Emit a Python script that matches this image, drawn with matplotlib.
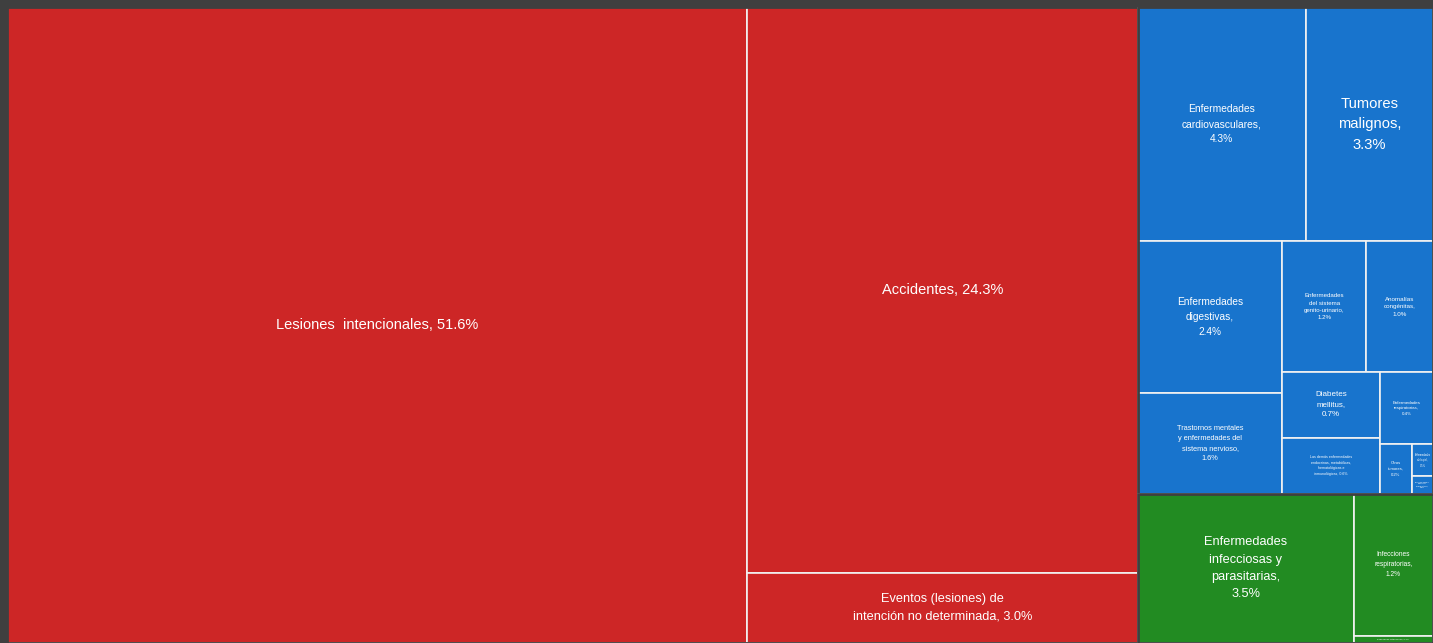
import matplotlib.pyplot as plt
from matplotlib.patches import Rectangle

# causes of death, percent of total
group_names = ['Lesiones', 'Enfermedades no transmisibles', 'Enfermedades transmisibles']

lesiones_labels = ['Lesiones  intencionales', 'Accidentes',
                   'Eventos (lesiones) de\nintención no determinada']
lesiones_values = [51.6, 24.3, 3.0]

no_trans_labels = ['Enfermedades\ncardiovasculares', 'Tumores\nmalignos',
                   'Enfermedades\ndigestivas',
                   'Trastornos mentales\ny enfermedades del\nsistema nervioso',
                   'Enfermedades\ndel sistema\ngenito-urinario',
                   'Anomalías\ncongénitas', 'Diabetes\nmellitus',
                   'Las demás enfermedades\nendocrinas, metabólicas,\nhematológicas e\ninmunológicas',
                   'Enfermedades\nrespiratorias', 'Otros\ntumores',
                   'Enfermedades\nde la piel', 'Enfermedades\nmusculo-\nesqueléticas']
no_trans_values = [4.32, 3.27, 2.4, 1.6, 1.2, 0.96, 0.7, 0.6, 0.42, 0.17, 0.075, 0.04]

trans_labels = ['Enfermedades\ninfecciosas y\nparasitarias', 'Infecciones\nrespiratorias',
                'Deficiencias nutricionales']
trans_values = [3.54, 1.24, 0.06]

# styles (font size, separator before the percent)
lesiones_fs = [10.5, 10.5, 9.2]
lesiones_sep = [' ', ' ', ' ']
no_trans_fs = [7.4, 10.6, 7.3, 5.3, 4.4, 4.5, 5.8, 2.6, 3.2, 3.0, 1.8, 1.6]
no_trans_sep = ['\n', '\n', '\n', '\n', '\n', '\n', '\n', ' ', '\n', '\n', '\n', '\n']
trans_fs = [9.2, 4.8, 1.6]
trans_sep = ['\n', '\n', ' ']

group_colors = ['#cd2626', '#1874cd', '#228b22']
frame = '#3f3f3f'


def worst(row, side):
    s = sum(row)
    return max(max(side * side * r / (s * s), s * s / (side * side * r)) for r in row)


def squarify(values, x, y, dx, dy):
    total = sum(values)
    sizes = [v * dx * dy / total for v in values]
    rects = []
    while sizes:
        side = dy if dx >= dy else dx
        row = [sizes[0]]
        i = 1
        while i < len(sizes) and worst(row + [sizes[i]], side) <= worst(row, side):
            row.append(sizes[i])
            i += 1
        s = sum(row)
        if dx >= dy:
            w = s / dy
            yy = y
            for r in row:
                rects.append((x, yy, w, r / w))
                yy += r / w
            x += w
            dx -= w
        else:
            h = s / dx
            xx = x
            for r in row:
                rects.append((xx, y, r / h, h))
                xx += r / h
            y += h
            dy -= h
        sizes = sizes[i:]
    return rects


W, H = 1426, 636
pad = 3  # axes runs a little past the right and bottom edges of the figure

fig = plt.figure(figsize=(14.33, 6.43), dpi=100, facecolor=frame)
ax = fig.add_axes([7 / 1433, -pad / 643, (W + pad) / 1433, (H + pad) / 643])
ax.set_xlim(0, W + pad)
ax.set_ylim(H + pad, 0)
ax.axis('off')

groups = [
    (lesiones_labels, lesiones_values, lesiones_fs, lesiones_sep),
    (no_trans_labels, no_trans_values, no_trans_fs, no_trans_sep),
    (trans_labels, trans_values, trans_fs, trans_sep),
]
group_totals = [sum(g[1]) for g in groups]
group_rects = squarify(group_totals, 0, 0, W, H)

for (labels, values, sizes, seps), (gx, gy, gw, gh), color in zip(groups, group_rects, group_colors):
    cells = squarify(values, gx, gy, gw, gh)
    for label, value, fs, sep, (x, y, w, h) in zip(labels, values, sizes, seps, cells):
        ax.add_patch(Rectangle((x, y), w, h, facecolor=color, edgecolor='#f2f2f2', linewidth=1.2))
        ax.text(x + w / 2, y + h / 2, label + ',' + sep + '%.1f%%' % value,
                ha='center', va='center', color='white', fontsize=fs,
                family=['Liberation Sans', 'DejaVu Sans'], linespacing=1.6)
    ax.add_patch(Rectangle((gx, gy), gw, gh, facecolor='none', edgecolor=frame, linewidth=2.0))

plt.savefig('out.png', dpi=100, facecolor=frame)
plt.close()
